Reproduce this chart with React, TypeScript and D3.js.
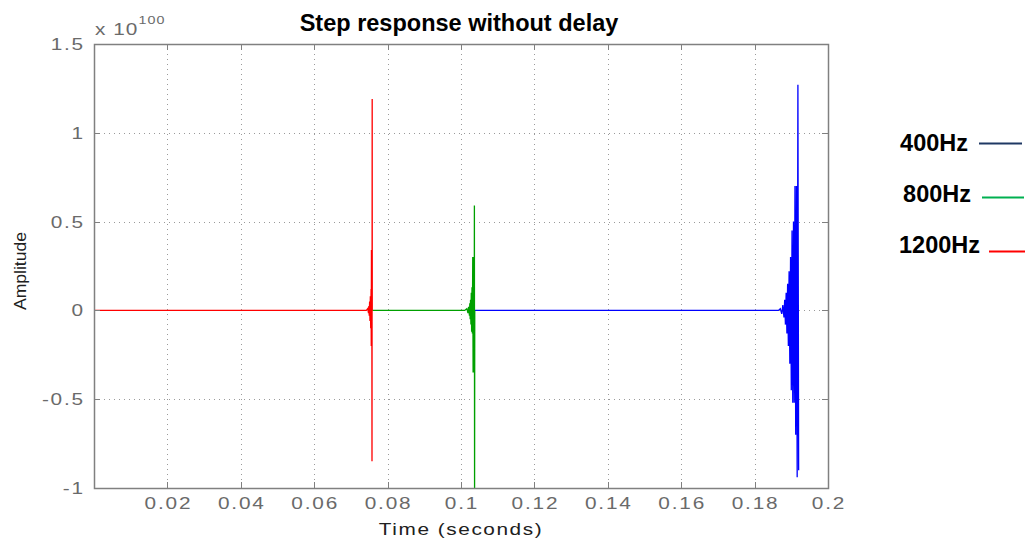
import { useEffect, useRef } from "react";
import * as d3 from "d3";

// time in seconds, amplitude in units of 1e100
const redT = [0, 0.0742, 0.0746, 0.0748, 0.0749, 0.0750, 0.0751, 0.0752, 0.0753, 0.0754, 0.0755, 0.07555, 0.0756, 0.07565, 0.0757, 0.07575, 0.0758, 0.07582];
const redV = [0, 0, 0.01, -0.015, 0.025, -0.03, 0.05, -0.06, 0.08, -0.1, 0.12, -0.2, 0.34, -0.2, 0.34, -0.85, 1.19, 0];
const greenT = [0.07582, 0.1010, 0.1016, 0.1019, 0.1021, 0.1023, 0.1024, 0.1025, 0.1026, 0.1027, 0.1028, 0.1029, 0.1030, 0.1031, 0.1032, 0.1033, 0.1034, 0.1035, 0.10355, 0.1036, 0.10365, 0.1037, 0.10375];
const greenV = [0, 0, 0.01, -0.015, 0.02, -0.03, 0.04, -0.05, 0.06, -0.08, 0.1, -0.12, 0.13, -0.13, 0.3, -0.35, 0.3, -0.35, 0.3, -0.35, 0.59, -1.05, 0];
const blueT = [0.10375, 0.1865, 0.1870, 0.1874, 0.1877, 0.1880, 0.1882, 0.1884, 0.1886, 0.1888, 0.1890, 0.1892, 0.1894, 0.1896, 0.1898, 0.1900, 0.1902, 0.1904, 0.1906, 0.1908, 0.1910, 0.1912, 0.1914, 0.1916, 0.1918, 0.1920];
const blueV = [0, 0, 0.01, -0.02, 0.03, -0.04, 0.06, -0.08, 0.1, -0.13, 0.15, -0.2, 0.22, -0.3, 0.3, -0.45, 0.45, -0.52, 0.5, -0.52, 0.7, -0.7, 0.7, -0.94, 1.27, -0.9];

const xTicks = [0.02, 0.04, 0.06, 0.08, 0.1, 0.12, 0.14, 0.16, 0.18, 0.2];
const xTickLabels = ["0.02", "0.04", "0.06", "0.08", "0.1", "0.12", "0.14", "0.16", "0.18", "0.2"];
const yTicks = [-1, -0.5, 0, 0.5, 1, 1.5];
const yTickLabels = ["-1", "-0.5", "0", "0.5", "1", "1.5"];

const legendNames = ["400Hz", "800Hz", "1200Hz"];
const legendColors = ["#1f3864", "#00b050", "#ff0000"];

const App = () => {
  const svgRef = useRef<SVGSVGElement>(null);

  useEffect(() => {
    if (!svgRef.current) return;
    const svg = d3.select(svgRef.current);
    svg.selectAll("*").remove();

    const left = 94, right = 828, top = 44, bottom = 488;
    const x = d3.scaleLinear().domain([0, 0.2]).range([left, right]);
    const y = d3.scaleLinear().domain([-1, 1.5]).range([bottom, top]);
    const font = "Liberation Sans, Arial, sans-serif";
    const axisColor = "#808080";
    const labelColor = "#6a6a6a";
    const stretch = 1.3; // MATLAB-style wide glyphs

    svg.append("rect").attr("width", 1025).attr("height", 543).attr("fill", "#fff");

    // grid
    const grid = svg.append("g").attr("stroke", "#9a9a9a").attr("stroke-width", 1)
      .attr("stroke-dasharray", "1,4");
    grid.selectAll("line.gx").data(xTicks.slice(0, -1)).join("line")
      .attr("x1", (d) => Math.round(x(d)) + 0.5).attr("x2", (d) => Math.round(x(d)) + 0.5)
      .attr("y1", top).attr("y2", bottom);
    grid.selectAll("line.gy").data(yTicks.slice(1, -1)).join("line")
      .attr("y1", (d) => Math.round(y(d)) + 0.5).attr("y2", (d) => Math.round(y(d)) + 0.5)
      .attr("x1", left).attr("x2", right);

    // series
    const line = d3.line<[number, number]>()
      .x((d) => x(d[0]))
      .y((d) => y(d[1]));
    const clip = svg.append("clipPath").attr("id", "plotclip");
    clip.append("rect").attr("x", left).attr("y", top).attr("width", right - left).attr("height", bottom - top);
    const plot = svg.append("g").attr("clip-path", "url(#plotclip)");
    const series: [number[], number[], string][] = [
      [blueT, blueV, "#0000ff"],
      [greenT, greenV, "#00a000"],
      [redT, redV, "#ff0000"],
    ];
    series.forEach(([t, v, c]) => {
      plot.append("path")
        .attr("d", line(t.map((tt, i) => [tt, v[i]] as [number, number])))
        .attr("fill", "none").attr("stroke", c).attr("stroke-width", 1.3);
    });

    // box + ticks
    svg.append("rect").attr("x", left + 0.5).attr("y", top + 0.5)
      .attr("width", right - left).attr("height", bottom - top)
      .attr("fill", "none").attr("stroke", axisColor).attr("stroke-width", 1.5);
    const ticks = svg.append("g").attr("stroke", axisColor).attr("stroke-width", 1);
    xTicks.forEach((d) => {
      const px = Math.round(x(d)) + 0.5;
      ticks.append("line").attr("x1", px).attr("x2", px).attr("y1", bottom).attr("y2", bottom - 6);
      ticks.append("line").attr("x1", px).attr("x2", px).attr("y1", top).attr("y2", top + 6);
    });
    yTicks.forEach((d) => {
      const py = Math.round(y(d)) + 0.5;
      ticks.append("line").attr("y1", py).attr("y2", py).attr("x1", left).attr("x2", left + 6);
      ticks.append("line").attr("y1", py).attr("y2", py).attr("x1", right).attr("x2", right - 6);
    });

    // tick labels
    svg.append("g").selectAll("text").data(xTicks).join("text")
      .attr("transform", (d) => `translate(${x(d) + 1},${bottom + 21}) scale(${stretch},1)`)
      .attr("text-anchor", "middle").attr("font-family", font).attr("font-size", 16)
      .attr("letter-spacing", 1.4)
      .attr("fill", labelColor).text((d, i) => xTickLabels[i]);
    svg.append("g").selectAll("text").data(yTicks).join("text")
      .attr("transform", (d) => `translate(${left - 9},${y(d) + 6}) scale(${stretch},1)`)
      .attr("text-anchor", "end").attr("font-family", font).attr("font-size", 16)
      .attr("letter-spacing", 1.4)
      .attr("fill", labelColor).text((d, i) => yTickLabels[i]);

    // exponent
    const exp = svg.append("text").attr("transform", `translate(${left + 1},35) scale(1.3,1)`)
      .attr("font-family", font).attr("font-size", 16).attr("letter-spacing", 0.8)
      .attr("fill", labelColor);
    exp.append("tspan").text("x 10");
    exp.append("tspan").attr("dy", -11).attr("font-size", 11).text("100");

    // titles
    svg.append("text").attr("x", 459).attr("y", 31).attr("text-anchor", "middle")
      .attr("font-family", font).attr("font-size", 23.5).attr("font-weight", "bold")
      .attr("fill", "#000").text("Step response without delay");
    svg.append("text")
      .attr("transform", `translate(${(left + right) / 2},535) scale(${stretch},1)`)
      .attr("text-anchor", "middle").attr("font-family", font).attr("font-size", 16)
      .attr("letter-spacing", 1.2)
      .attr("fill", "#202020").text("Time (seconds)");
    svg.append("text").attr("transform", `translate(26,271) rotate(-90) scale(1.1,1)`)
      .attr("text-anchor", "middle").attr("font-family", font).attr("font-size", 16)
      .attr("fill", "#202020").text("Amplitude");

    // legend
    const legendY = [143, 197, 251];
    const textY = [151, 202, 253];
    const textX = [968, 971, 980];
    const lineX = [[979, 1022], [982, 1024], [989, 1025]];
    legendNames.forEach((name, i) => {
      svg.append("text").attr("x", textX[i]).attr("y", textY[i])
        .attr("text-anchor", "end").attr("font-family", font).attr("font-size", 23.5)
        .attr("font-weight", "bold").attr("fill", "#000").text(name);
      svg.append("line").attr("x1", lineX[i][0]).attr("x2", lineX[i][1])
        .attr("y1", legendY[i] + 0.5).attr("y2", legendY[i] + 0.5)
        .attr("stroke", legendColors[i]).attr("stroke-width", 2);
    });
  }, []);

  return <svg ref={svgRef} width={1025} height={543} style={{ position: "absolute", left: 0, top: 0 }}></svg>;
};

export default App;
